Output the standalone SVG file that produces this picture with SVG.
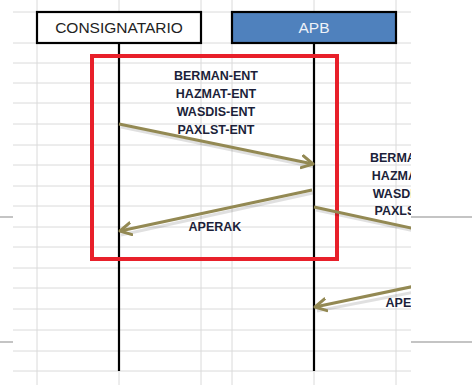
<svg xmlns="http://www.w3.org/2000/svg" width="472" height="385" viewBox="0 0 472 385">
<style>
.grid{stroke:#dadada;stroke-width:1;fill:none}
.edge{stroke:#8a8a8a;stroke-width:1.2}
.box{stroke:#000;stroke-width:2.2}
.life{stroke:#000;stroke-width:2.2}
.msg{stroke:#938953;stroke-width:3;fill:none}
.shadow{stroke:#000;stroke-opacity:0.12;stroke-width:3;fill:none}
.lbl{font-family:"Liberation Sans",Arial,sans-serif;font-weight:bold;font-size:12.5px;fill:#1c1f3a;text-anchor:middle}
.hdr{font-family:"Liberation Sans",Arial,sans-serif;font-size:15.5px;text-anchor:middle}
</style>
<defs>
<marker id="ah" markerUnits="userSpaceOnUse" markerWidth="16" markerHeight="16" refX="12" refY="7" orient="auto" viewBox="0 0 16 14">
<path d="M1,1 L12,7 L1,13" fill="none" stroke="#938953" stroke-width="3" stroke-linecap="round" stroke-linejoin="round"/>
</marker>
<clipPath id="clip"><rect x="0" y="0" width="411" height="385"/></clipPath>
</defs>
<rect width="472" height="385" fill="#fff"/>
<g id="grid">
<path class="grid" d="M37,0V385M201,0V385M232,0V385M396,0V385M119,0V385M314,0V385"/>
<path class="grid" d="M13,12H411M13,43H411M13,63H411M13,83H411M13,103H411M13,124H411M13,145H411M13,165H411M13,186H411M13,206H411M13,227H411M13,247H411M13,268H411M13,288H411M13,309H411M13,330H411M13,351H411M13,371H411"/>
<path class="edge" d="M0,217H13M411,217H472M0,342H13M411,342H472"/>
</g>
<g id="consignatario">
<rect class="box" x="37" y="12" width="164" height="31" fill="#fff"/>
<text class="hdr" x="119" y="33" fill="#222">CONSIGNATARIO</text>
<line class="life" x1="119" y1="43" x2="119" y2="371"/>
</g>
<g id="apb">
<rect class="box" x="232" y="12" width="164" height="31" fill="#4f81bd"/>
<text class="hdr" x="314" y="33" fill="#eef2f8">APB</text>
<line class="life" x1="314" y1="43" x2="314" y2="371"/>
</g>
<g id="frame">
<rect x="92" y="56" width="245" height="203" fill="none" stroke="#e8202a" stroke-width="4"/>
</g>
<g id="connectors" clip-path="url(#clip)">
<path class="shadow" d="M121,127L314,167M313,193L121,235M316,210L420,232M420,291L317,311"/>
<line class="msg" x1="119" y1="124" x2="313" y2="164" marker-end="url(#ah)"/>
<line class="msg" x1="312" y1="190" x2="120" y2="231" marker-end="url(#ah)"/>
<line class="msg" x1="314" y1="207" x2="420" y2="230"/>
<line class="msg" x1="420" y1="285" x2="315" y2="307" marker-end="url(#ah)"/>
</g>
<g id="labels" clip-path="url(#clip)">
<text class="lbl" x="216" y="80">BERMAN-ENT</text>
<text class="lbl" x="216" y="98">HAZMAT-ENT</text>
<text class="lbl" x="216" y="116">WASDIS-ENT</text>
<text class="lbl" x="216" y="134">PAXLST-ENT</text>
<text class="lbl" x="215" y="231">APERAK</text>
<text class="lbl" x="412" y="162">BERMAN-ENT</text>
<text class="lbl" x="412" y="180">HAZMAT-ENT</text>
<text class="lbl" x="412" y="198">WASDIS-ENT</text>
<text class="lbl" x="413" y="215">PAXLST-ENT</text>
<text class="lbl" x="412" y="307">APERAK</text>
</g>
</svg>
